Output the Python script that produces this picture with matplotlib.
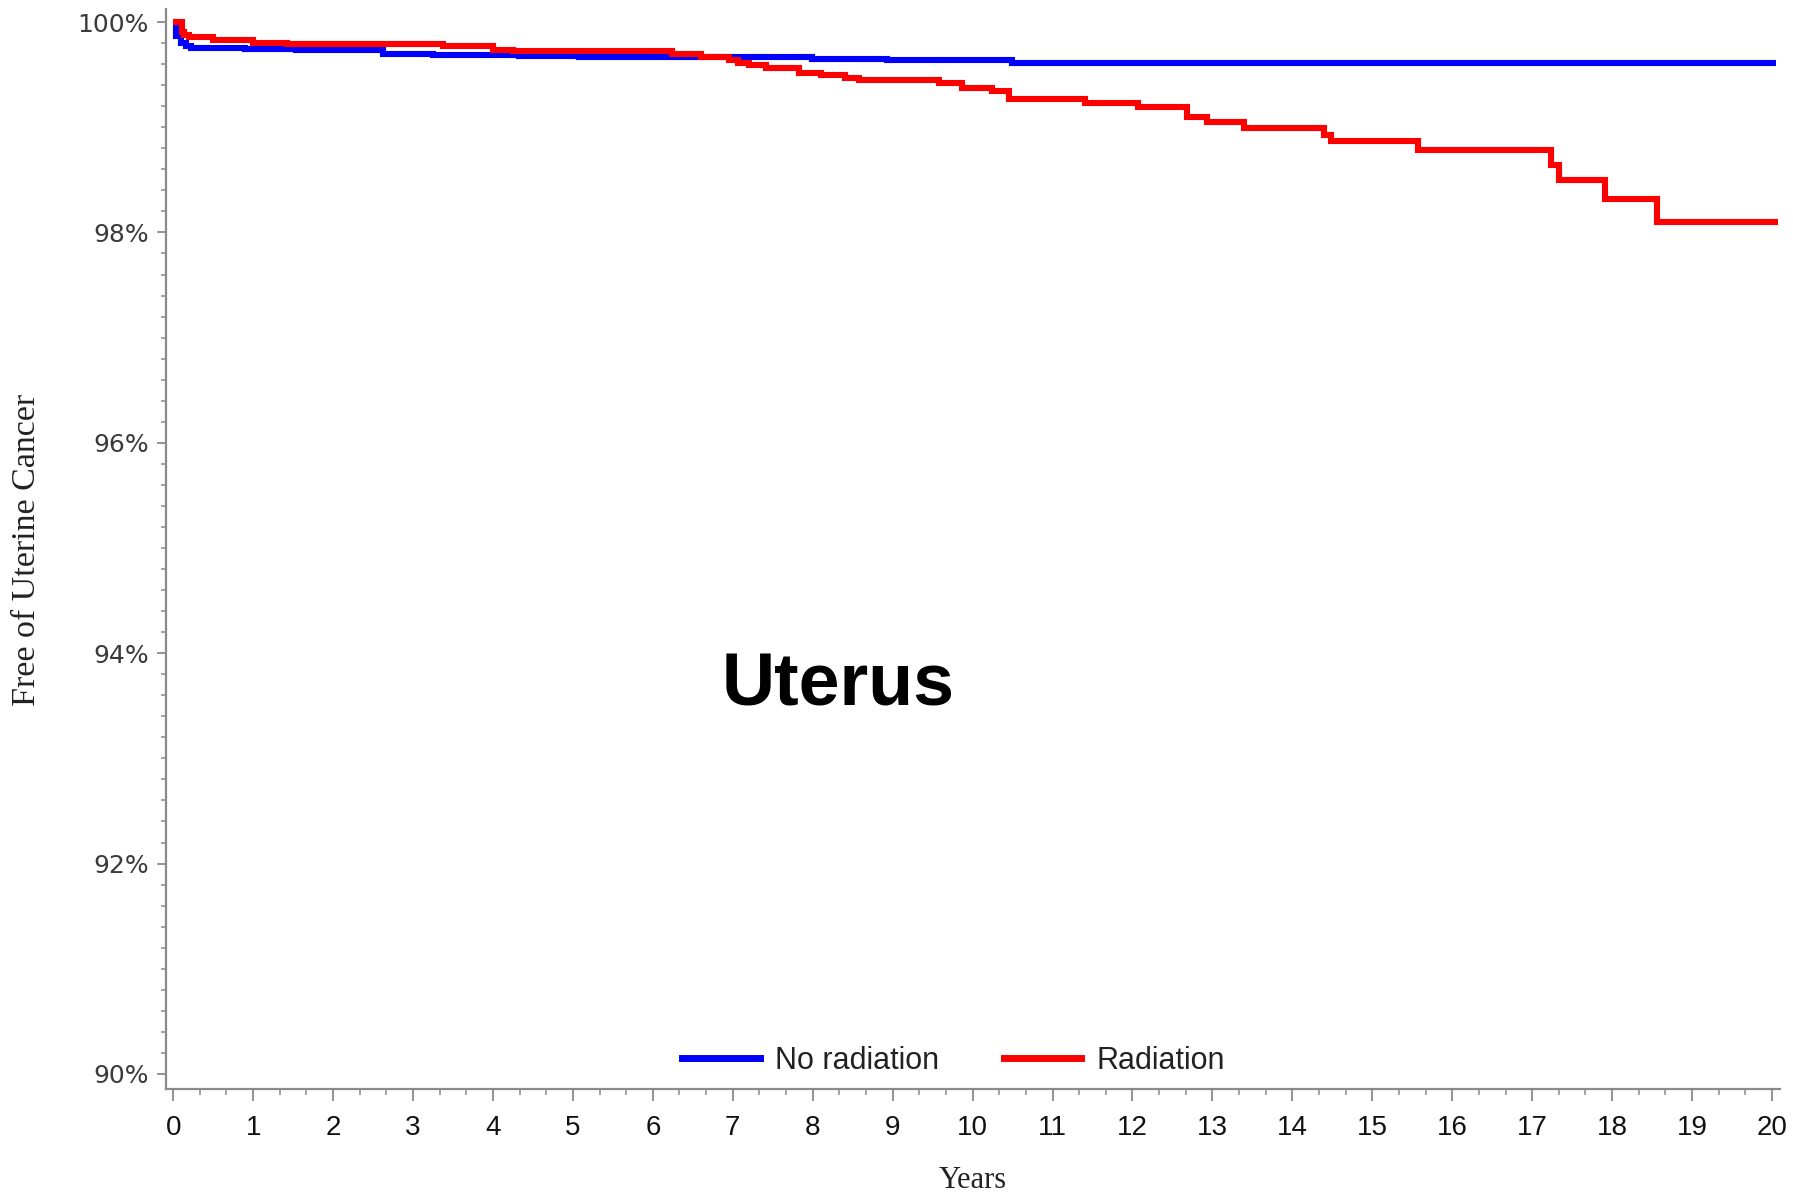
import matplotlib
matplotlib.use("Agg")
import matplotlib.pyplot as plt
from matplotlib.ticker import MultipleLocator, FixedLocator
from matplotlib.lines import Line2D

# ---- data ----
no_rad_years = [0, 0.04, 0.10, 0.16, 0.22, 0.90, 1.54, 2.63, 3.25, 4.33, 5.08,
                7.99, 8.93, 10.49, 20.05]
no_rad_surv = [100, 99.87, 99.80, 99.77, 99.75, 99.74, 99.73, 99.70, 99.69, 99.68,
               99.67, 99.65, 99.64, 99.61, 99.61]

rad_years = [0, 0.11, 0.14, 0.2, 0.5, 1.0, 1.42, 3.37, 4.0, 4.25, 6.24, 6.6, 6.95,
             7.06, 7.2, 7.41, 7.83, 8.1, 8.4, 8.58, 9.58, 9.87, 10.24, 10.45, 11.41,
             12.07, 12.68, 12.93, 13.4, 14.4, 14.48, 15.57, 17.24, 17.33, 17.91,
             18.56, 20.07]
rad_surv = [100, 99.91, 99.88, 99.86, 99.83, 99.80, 99.79, 99.77, 99.73, 99.72,
            99.70, 99.67, 99.64, 99.61, 99.59, 99.56, 99.52, 99.50, 99.47, 99.45,
            99.42, 99.37, 99.34, 99.27, 99.23, 99.19, 99.10, 99.05, 98.99, 98.93,
            98.87, 98.78, 98.64, 98.50, 98.32, 98.10, 98.10]

series_labels = ["No radiation", "Radiation"]
x_ticks = list(range(0, 21))
y_ticks = [90, 92, 94, 96, 98, 100]
y_tick_labels = ["90%", "92%", "94%", "96%", "98%", "100%"]
title_text = "Uterus"
xlabel = "Years"
ylabel = "Free of Uterine Cancer"

W, H = 1793, 1198
fig = plt.figure(figsize=(W / 100, H / 100), dpi=100)
ax = fig.add_axes([166 / W, 1 - 1089 / H, (1780 - 166) / W, (1089 - 9) / H])

blue = "#0000ff"
red = "#ff0000"
ax.step(no_rad_years, no_rad_surv, where="post", color=blue, lw=4.4,
        solid_joinstyle="miter", solid_capstyle="butt", zorder=3)
ax.step(rad_years, rad_surv, where="post", color=red, lw=4.4,
        solid_joinstyle="miter", solid_capstyle="butt", zorder=4)

ax.set_xlim(-0.09, 20.1)
ax.set_ylim(89.857, 100.124)

for s in ["top", "right"]:
    ax.spines[s].set_visible(False)
grey = "#8a8a8a"
for s in ["left", "bottom"]:
    ax.spines[s].set_color(grey)
    ax.spines[s].set_linewidth(1.6)

ax.xaxis.set_major_locator(FixedLocator(x_ticks))
ax.xaxis.set_minor_locator(MultipleLocator(1 / 3))
ax.yaxis.set_major_locator(FixedLocator(y_ticks))
ax.yaxis.set_minor_locator(MultipleLocator(0.2))
ax.set_yticklabels(y_tick_labels)

ax.tick_params(axis="x", which="major", length=8.6, width=1.3, color=grey, pad=10,
               labelsize=20, labelcolor="#111111")
ax.tick_params(axis="x", which="minor", length=4.3, width=1.1, color=grey)
ax.tick_params(axis="y", which="major", length=6.5, width=1.3, color=grey, pad=6,
               labelsize=18, labelcolor="#3a3a3a")
ax.tick_params(axis="y", which="minor", length=3.5, width=1.1, color=grey)
for lab in ax.get_xticklabels():
    lab.set_fontfamily("Liberation Sans")
for lab in ax.get_yticklabels():
    lab.set_fontfamily("DejaVu Sans")

fig.text(27 / W, 1 - 550 / H, ylabel, rotation=90, ha="center", va="center",
         fontsize=24.5, family="Liberation Serif", color="#222222")
fig.text(973 / W, 1 - 1181 / H, xlabel, ha="center", va="center",
         fontsize=22, family="Liberation Serif", color="#222222")

ax.text(8.32, 93.50, title_text, ha="center", va="baseline", fontsize=53,
        fontweight="bold", family="Liberation Sans", color="black")

handles = [Line2D([], [], color=blue, lw=5), Line2D([], [], color=red, lw=5)]
leg = ax.legend(handles, series_labels, loc="center", bbox_to_anchor=(0.488, 0.026),
                ncol=2, frameon=False, handlelength=2.55, handletextpad=0.5,
                columnspacing=2.1, prop={"family": "Liberation Sans", "size": 22})
for t in leg.get_texts():
    t.set_color("#222222")

fig.savefig("out.png", dpi=100, facecolor="white")
